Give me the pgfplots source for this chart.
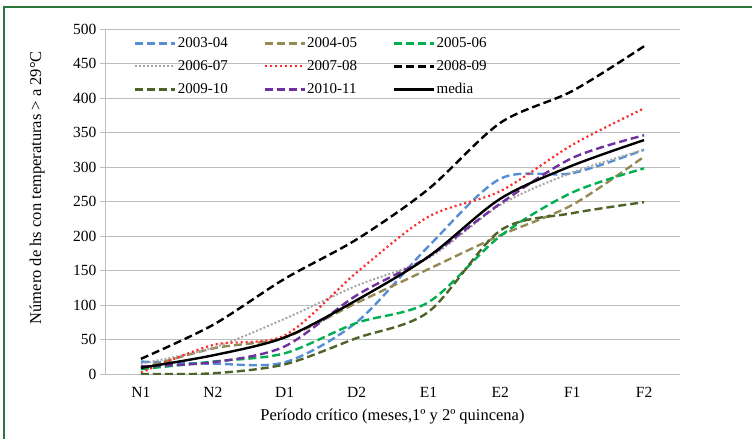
\documentclass[border=0pt]{standalone}
\usepackage{pgfplots}
\pgfplotsset{compat=1.18}
\usepackage{fontspec}
\setmainfont{Liberation Serif}
\definecolor{c1}{RGB}{85,142,213}
\definecolor{c2}{RGB}{148,138,84}
\definecolor{c3}{RGB}{0,176,80}
\definecolor{c4}{RGB}{166,166,166}
\definecolor{c5}{RGB}{255,40,40}
\definecolor{c7}{RGB}{79,98,40}
\definecolor{c8}{RGB}{112,48,160}
\definecolor{frame}{RGB}{40,120,60}
\definecolor{gridc}{RGB}{190,190,190}
\begin{document}
\begin{tikzpicture}[x=1pt,y=1pt]
\path[use as bounding box] (0,0) rectangle (752,439);
\draw[frame,line width=1.5pt] (4,0) -- (4,432) -- (752,432);
\begin{axis}[
  at={(105pt,65pt)}, anchor=south west,
  scale only axis, width=575pt, height=345pt,
  xmin=-0.5, xmax=7.5, ymin=0, ymax=500,
  xtick={0,...,7},
  xticklabels={N1,N2,D1,D2,E1,E2,F1,F2},
  minor xtick={-0.5,0.5,...,7.5},
  ytick={0,50,...,500},
  axis x line*=bottom, axis y line*=left,
  axis line style={gridc, line width=0.8pt, -},
  ymajorgrids, grid style={gridc, line width=0.8pt},
  tick style={gridc, line width=0.8pt},
  tick align=outside,
  major tick length=5pt, minor tick length=5pt,
  xtick style={draw=none},
  minor x tick style={gridc, line width=0.8pt},
  /pgf/number format/assume math mode=true,
  tick label style={font=\fontsize{15.5}{17}\selectfont, black},
  xticklabel style={yshift=-5pt},
  label style={font=\fontsize{16.5}{18}\selectfont},
  xlabel={Período crítico (meses,1º y 2º quincena)},
  ylabel={Número de hs con temperaturas > a 29°C},
  xlabel style={at={(axis description cs:0.5,-0.1246)}, anchor=center},
  ylabel style={at={(axis description cs:-0.118,0.54)}, anchor=center, rotate=0},
  legend columns=3,
  legend cell align=left,
  legend style={draw=none, fill=none, at={(axis description cs:0.05,0.98)}, anchor=north west,
    font=\fontsize{15}{17}\selectfont, inner sep=0pt,
    nodes={inner sep=1.5pt, anchor=west}, row sep=8.5pt,
    /tikz/every even column/.append style={column sep=34pt}},
  legend image code/.code={\draw[#1] (0pt,0pt) -- (40pt,0pt);},
  every axis plot/.append style={smooth, line width=2.4pt},
]
\addplot[c1, dash pattern=on 8pt off 4pt] coordinates {(0,18) (1,15) (2,17) (3,75) (4,185) (5,283) (6,291) (7,325)};
\addlegendentry{2003-04}
\addplot[c2, dash pattern=on 8pt off 4pt] coordinates {(0,8) (1,37) (2,53) (3,103) (4,152) (5,201) (6,245) (7,315)};
\addlegendentry{2004-05}
\addplot[c3, dash pattern=on 8pt off 4pt] coordinates {(0,7) (1,18) (2,30) (3,74) (4,104) (5,200) (6,263) (7,298)};
\addlegendentry{2005-06}
\addplot[c4, line width=2pt, dash pattern=on 2pt off 2pt] coordinates {(0,15) (1,38) (2,80) (3,128) (4,168) (5,245) (6,292) (7,325)};
\addlegendentry{2006-07}
\addplot[c5, line width=2.2pt, dash pattern=on 2pt off 3pt] coordinates {(0,2) (1,42) (2,56) (3,147) (4,228) (5,265) (6,332) (7,385)};
\addlegendentry{2007-08}
\addplot[black, dash pattern=on 8pt off 4pt] coordinates {(0,22) (1,71) (2,138) (3,195) (4,268) (5,364) (6,410) (7,475)};
\addlegendentry{2008-09}
\addplot[c7, dash pattern=on 8pt off 4pt] coordinates {(0,0) (1,1) (2,14) (3,52) (4,90) (5,208) (6,233) (7,249)};
\addlegendentry{2009-10}
\addplot[c8, dash pattern=on 8pt off 4pt] coordinates {(0,11) (1,17) (2,40) (3,114) (4,170) (5,247) (6,313) (7,346)};
\addlegendentry{2010-11}
\addplot[black] coordinates {(0,9) (1,27) (2,53) (3,107) (4,170) (5,254) (6,302) (7,339)};
\addlegendentry{media}
\end{axis}
\end{tikzpicture}
\end{document}
